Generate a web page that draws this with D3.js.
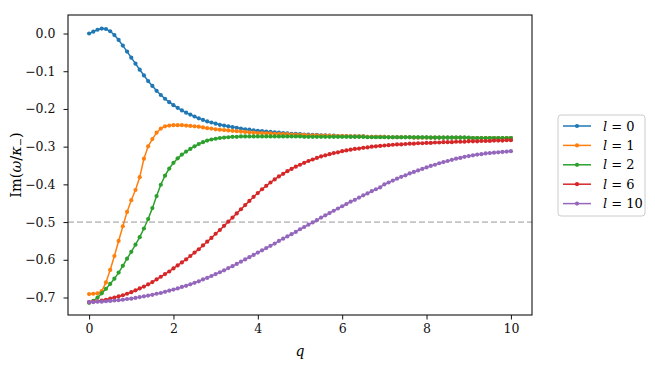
<!DOCTYPE html><head><meta charset = "utf-8">
<title>Im(omega/kappa) vs q</title>
<style type = "text/css">
body {
  margin: 0;
  background: white;
}
svg text {
  font-family: "DejaVu Serif", serif;
}
</style>
<script type="text/javascript" src="https://cdn.jsdelivr.net/npm/d3@7/dist/d3.min.js"></script>
</head><body>
<div id="chart"></div>

<script type="text/javascript">

// q grid (x values)
var qVals = [0.0,0.1,0.2,0.3,0.4,0.5,0.6,0.7,0.8,0.9,
  1.0,1.1,1.2,1.3,1.4,1.5,1.6,1.7,1.8,1.9,
  2.0,2.1,2.2,2.3,2.4,2.5,2.6,2.7,2.8,2.9,
  3.0,3.1,3.2,3.3,3.4,3.5,3.6,3.7,3.8,3.9,
  4.0,4.1,4.2,4.3,4.4,4.5,4.6,4.7,4.8,4.9,
  5.0,5.1,5.2,5.3,5.4,5.5,5.6,5.7,5.8,5.9,
  6.0,6.1,6.2,6.3,6.4,6.5,6.6,6.7,6.8,6.9,
  7.0,7.1,7.2,7.3,7.4,7.5,7.6,7.7,7.8,7.9,
  8.0,8.1,8.2,8.3,8.4,8.5,8.6,8.7,8.8,8.9,
  9.0,9.1,9.2,9.3,9.4,9.5,9.6,9.7,9.8,9.9,10.0];

var l0 = [0.000,0.005,0.010,0.013,0.012,0.006,-0.004,-0.017,-0.032,-0.048,
  -0.064,-0.080,-0.096,-0.111,-0.126,-0.139,-0.152,-0.163,-0.173,-0.182,
  -0.190,-0.197,-0.204,-0.210,-0.215,-0.220,-0.225,-0.229,-0.233,-0.236,
  -0.239,-0.242,-0.244,-0.246,-0.248,-0.250,-0.252,-0.254,-0.255,-0.257,
  -0.258,-0.259,-0.260,-0.261,-0.262,-0.263,-0.264,-0.265,-0.266,-0.266,
  -0.267,-0.268,-0.268,-0.269,-0.269,-0.270,-0.270,-0.271,-0.271,-0.272,
  -0.272,-0.272,-0.273,-0.273,-0.273,-0.273,-0.274,-0.274,-0.274,-0.274,
  -0.274,-0.275,-0.275,-0.275,-0.275,-0.275,-0.275,-0.276,-0.276,-0.276,
  -0.276,-0.276,-0.276,-0.276,-0.276,-0.276,-0.276,-0.276,-0.276,-0.276,
  -0.277,-0.277,-0.277,-0.277,-0.277,-0.277,-0.277,-0.277,-0.277,-0.277,-0.277];

var l1 = [-0.691,-0.690,-0.689,-0.683,-0.660,-0.627,-0.590,-0.550,-0.511,-0.473,
  -0.442,-0.415,-0.381,-0.332,-0.299,-0.280,-0.263,-0.252,-0.246,-0.244,
  -0.243,-0.243,-0.243,-0.244,-0.245,-0.246,-0.247,-0.249,-0.251,-0.252,
  -0.254,-0.255,-0.256,-0.257,-0.258,-0.259,-0.260,-0.261,-0.262,-0.263,
  -0.264,-0.264,-0.265,-0.265,-0.266,-0.266,-0.267,-0.267,-0.268,-0.268,
  -0.269,-0.269,-0.270,-0.270,-0.270,-0.271,-0.271,-0.271,-0.272,-0.272,
  -0.272,-0.272,-0.273,-0.273,-0.273,-0.273,-0.274,-0.274,-0.274,-0.274,
  -0.274,-0.275,-0.275,-0.275,-0.275,-0.275,-0.275,-0.276,-0.276,-0.276,
  -0.276,-0.276,-0.276,-0.276,-0.276,-0.276,-0.276,-0.276,-0.276,-0.276,
  -0.277,-0.277,-0.277,-0.277,-0.277,-0.277,-0.277,-0.277,-0.277,-0.277,-0.277];

var l2 = [-0.714,-0.709,-0.700,-0.689,-0.677,-0.664,-0.650,-0.634,-0.616,-0.597,
  -0.579,-0.560,-0.540,-0.517,-0.492,-0.463,-0.431,-0.401,-0.377,-0.358,
  -0.343,-0.331,-0.321,-0.313,-0.306,-0.299,-0.293,-0.288,-0.284,-0.281,
  -0.279,-0.277,-0.276,-0.275,-0.274,-0.274,-0.273,-0.273,-0.273,-0.273,
  -0.273,-0.273,-0.273,-0.273,-0.273,-0.273,-0.273,-0.273,-0.273,-0.273,
  -0.273,-0.274,-0.274,-0.274,-0.274,-0.274,-0.274,-0.274,-0.274,-0.274,
  -0.274,-0.274,-0.274,-0.274,-0.274,-0.274,-0.275,-0.275,-0.275,-0.275,
  -0.275,-0.275,-0.275,-0.275,-0.275,-0.275,-0.275,-0.275,-0.275,-0.275,
  -0.275,-0.276,-0.276,-0.276,-0.276,-0.276,-0.276,-0.276,-0.276,-0.276,
  -0.276,-0.277,-0.277,-0.277,-0.277,-0.277,-0.277,-0.277,-0.277,-0.277,-0.277];

var l6 = [-0.712,-0.711,-0.710,-0.708,-0.706,-0.703,-0.700,-0.697,-0.694,-0.690,
  -0.686,-0.681,-0.676,-0.671,-0.665,-0.659,-0.652,-0.645,-0.638,-0.631,
  -0.623,-0.615,-0.607,-0.599,-0.590,-0.581,-0.572,-0.562,-0.552,-0.542,
  -0.531,-0.521,-0.510,-0.499,-0.488,-0.477,-0.466,-0.455,-0.444,-0.433,
  -0.423,-0.413,-0.404,-0.395,-0.387,-0.379,-0.372,-0.365,-0.359,-0.353,
  -0.348,-0.343,-0.338,-0.334,-0.330,-0.326,-0.323,-0.320,-0.317,-0.315,
  -0.312,-0.310,-0.308,-0.306,-0.305,-0.303,-0.302,-0.300,-0.299,-0.298,
  -0.297,-0.296,-0.295,-0.294,-0.294,-0.293,-0.292,-0.292,-0.291,-0.291,
  -0.290,-0.290,-0.289,-0.289,-0.288,-0.288,-0.288,-0.287,-0.287,-0.287,
  -0.286,-0.286,-0.286,-0.285,-0.285,-0.285,-0.284,-0.284,-0.284,-0.283,-0.283];

var l10 = [-0.712,-0.712,-0.711,-0.711,-0.710,-0.709,-0.708,-0.707,-0.706,-0.704,
  -0.703,-0.701,-0.699,-0.697,-0.695,-0.693,-0.690,-0.688,-0.685,-0.682,
  -0.679,-0.676,-0.672,-0.669,-0.665,-0.661,-0.657,-0.652,-0.648,-0.643,
  -0.638,-0.633,-0.628,-0.622,-0.617,-0.611,-0.605,-0.599,-0.593,-0.587,
  -0.581,-0.575,-0.569,-0.563,-0.557,-0.550,-0.544,-0.538,-0.532,-0.526,
  -0.519,-0.513,-0.507,-0.501,-0.495,-0.488,-0.482,-0.476,-0.470,-0.464,
  -0.458,-0.452,-0.446,-0.441,-0.435,-0.429,-0.424,-0.418,-0.413,-0.408,
  -0.400,-0.395,-0.390,-0.385,-0.380,-0.376,-0.371,-0.367,-0.363,-0.359,
  -0.355,-0.351,-0.348,-0.344,-0.341,-0.338,-0.335,-0.332,-0.330,-0.327,
  -0.325,-0.323,-0.321,-0.320,-0.318,-0.317,-0.316,-0.315,-0.314,-0.313,-0.312];

var seriesNames = ["0", "1", "2", "6", "10"];
var seriesColors = ["#1f77b4", "#ff7f0e", "#2ca02c", "#d62728", "#9467bd"];
var seriesVals = [l0, l1, l2, l6, l10];

var xTicks = [0, 2, 4, 6, 8, 10];
var yTicks = [0.0, -0.1, -0.2, -0.3, -0.4, -0.5, -0.6, -0.7];
var refLine = -0.5;

var width = 655, height = 367;
var margin = {left: 68, right: 123, top: 15, bottom: 52};
var serif = "'DejaVu Serif', serif";

var svg = d3.select("#chart").append("svg")
  .attr("width", width).attr("height", height);

var xscale = d3.scaleLinear()
  .domain([-0.5, 10.5])
  .range([margin.left, width - margin.right]);
var yscale = d3.scaleLinear()
  .domain([-0.7464, 0.0491])
  .range([height - margin.bottom, margin.top]);

function fmt(v) {
  return d3.format(".1f")(v).replace("-", "\u2212");
}

// dashed reference line
svg.append("line")
  .attr("x1", xscale.range()[0]).attr("x2", xscale.range()[1])
  .attr("y1", yscale(refLine)).attr("y2", yscale(refLine))
  .attr("stroke", "#c4c4c4").attr("stroke-width", 1.8)
  .attr("stroke-dasharray", "6,3");

// series
var line = d3.line()
  .x((d, i) => xscale(qVals[i]))
  .y((d) => yscale(d));

seriesVals.forEach(function(vals, k) {
  var g = svg.append("g").attr("class", "series" + k);
  g.append("path")
    .attr("d", line(vals))
    .attr("fill", "none")
    .attr("stroke", seriesColors[k])
    .attr("stroke-width", 1.5);
  g.selectAll("circle")
    .data(vals)
    .join("circle")
    .attr("cx", (d, i) => xscale(qVals[i]))
    .attr("cy", (d) => yscale(d))
    .attr("r", 2.1)
    .attr("fill", seriesColors[k]);
});

// axes
var xAxis = svg.append("g")
  .attr("transform", "translate(0," + (height - margin.bottom) + ")")
  .call(d3.axisBottom(xscale).tickValues(xTicks).tickSize(4.5).tickSizeOuter(0).tickPadding(5));
var yAxis = svg.append("g")
  .attr("transform", "translate(" + margin.left + ",0)")
  .call(d3.axisLeft(yscale).tickValues(yTicks).tickFormat(fmt).tickSize(4.5).tickSizeOuter(0).tickPadding(8));
[xAxis, yAxis].forEach(function(ax) {
  ax.select(".domain").remove();
  ax.selectAll("text").attr("font-size", "12.5px").attr("fill", "#111")
    .attr("font-family", serif);
  ax.selectAll("line").attr("stroke", "#111").attr("stroke-width", 1);
});

// frame
svg.append("rect")
  .attr("x", margin.left).attr("y", margin.top)
  .attr("width", width - margin.left - margin.right)
  .attr("height", height - margin.top - margin.bottom)
  .attr("fill", "none").attr("stroke", "#111").attr("stroke-width", 1.1);

// axis labels
svg.append("text")
  .attr("x", (margin.left + width - margin.right) / 2)
  .attr("y", 356)
  .attr("text-anchor", "middle")
  .attr("font-size", "14px")
  .attr("font-style", "italic")
  .attr("font-family", serif)
  .text("q");

var ylab = svg.append("text")
  .attr("transform", "translate(21," + ((margin.top + height - margin.bottom) / 2) + ") rotate(-90)")
  .attr("text-anchor", "middle")
  .attr("font-family", serif)
  .attr("font-size", "14.5px");
ylab.append("tspan").text("Im(");
ylab.append("tspan").attr("font-style", "italic").text("\u03c9");
ylab.append("tspan").text("/");
ylab.append("tspan").attr("font-style", "italic").text("\u03ba");
ylab.append("tspan").attr("font-size", "10px").attr("dy", 3).text("\u2212");
ylab.append("tspan").attr("dy", -3).text(")");

// legend
var legend = svg.append("g").attr("transform", "translate(558,115)");
legend.append("rect")
  .attr("width", 87).attr("height", 101)
  .attr("rx", 3).attr("ry", 3)
  .attr("fill", "white").attr("fill-opacity", 0.8)
  .attr("stroke", "#cccccc").attr("stroke-width", 1);
seriesNames.forEach(function(name, k) {
  var row = legend.append("g").attr("transform", "translate(0," + (11 + k * 19.4) + ")");
  row.append("line")
    .attr("x1", 5).attr("x2", 33)
    .attr("stroke", seriesColors[k]).attr("stroke-width", 1.5);
  row.append("circle")
    .attr("cx", 19).attr("cy", 0).attr("r", 2.1)
    .attr("fill", seriesColors[k]);
  var t = row.append("text")
    .attr("x", 45).attr("y", 4.5)
    .attr("font-family", serif)
    .attr("font-size", "13px");
  t.append("tspan").attr("font-style", "italic").text("l");
  t.append("tspan").text(" = " + name);
});

</script>
</body></html>
